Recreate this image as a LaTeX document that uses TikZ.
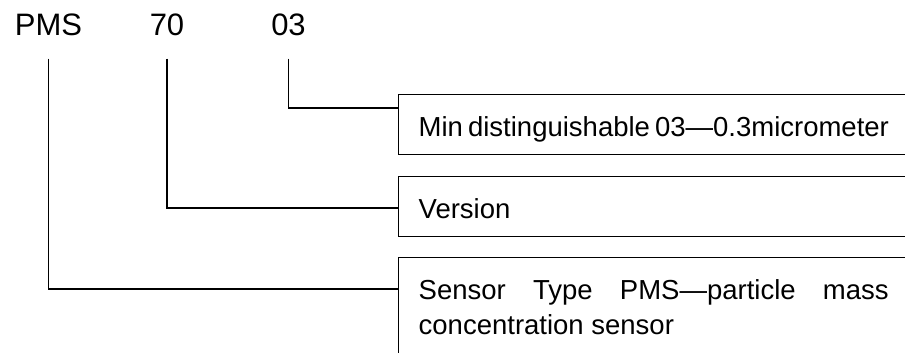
\documentclass[tikz,border=0pt]{standalone}
\usepackage{fontspec}
\setmainfont{Liberation Sans}

\begin{document}
\begin{tikzpicture}[x=1pt, y=-1pt,
    rotulo/.style={inner sep=0pt, anchor=base, font=\fontsize{31}{36}\selectfont},
    caixa/.style={draw, line width=1.4pt, anchor=north west, inner xsep=20pt, inner ysep=18pt,
        text width=470pt, align=justify, text height=24pt, text depth=0pt,
        font=\fontsize{27.5}{35}\selectfont},
    ligacao/.style={line width=1.4pt, shorten <=22pt}]

    % Moldura (as caixas saem pela direita e por baixo)
    \useasboundingbox (0,0) rectangle (905,353);
    \clip (0,0) rectangle (905,353);

    % Partes do código
    \node[rotulo] (pms) at (48.5,36) {PMS};
    \node[rotulo] (ver) at (167,36) {70};
    \node[rotulo] (res) at (288.5,36) {03};

    % Caixas de descrição
    \node[caixa] (resbox) at (398,94) {Min distinguishable 03—0.3micrometer};
    \node[caixa] (verbox) at (398,176) {Version};
    \node[caixa, text depth=70pt] (typebox) at (398,257)
        {Sensor Type PMS—particle mass\linebreak concentration sensor};

    % Ligações
    \draw[ligacao] (res.south) |- ([yshift=-14pt]resbox.north west);
    \draw[ligacao] (ver.south) |- ([yshift=-32pt]verbox.north west);
    \draw[ligacao] (pms.south) |- ([yshift=-32pt]typebox.north west);

\end{tikzpicture}
\end{document}
